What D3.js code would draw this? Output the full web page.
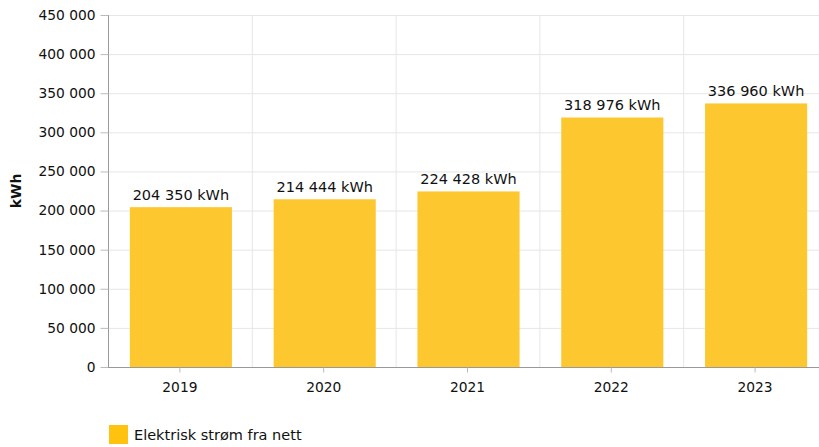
<!DOCTYPE html>
<html>
<head>
<meta charset="utf-8">
<script src="https://cdn.jsdelivr.net/npm/d3@7"></script>
<style>
  body { margin: 0; background: #fff; }
  text { font-family: "DejaVu Sans", Verdana, sans-serif; }
</style>
</head>
<body>
<svg id="chart" width="819" height="447"></svg>
<script>
var years = ["2019", "2020", "2021", "2022", "2023"];
var values = [204350, 214444, 224428, 318976, 336960];
var yTicks = [0, 50000, 100000, 150000, 200000, 250000, 300000, 350000, 400000, 450000];
var seriesName = "Elektrisk strøm fra nett";
var unit = "kWh";

var svg = d3.select("#chart");
var plotL = 108, plotR = 827, plotT = 15, plotB = 367;

var fmt = function(v) { return d3.format(",")(v).replace(/,/g, " "); };

var x = d3.scaleBand().domain(years).range([plotL, plotR]).paddingInner(0.29).paddingOuter(0.145);
var y = d3.scaleLinear().domain([0, 450000]).range([plotB, plotT]);

// horizontal grid
svg.append("g").selectAll("line").data(yTicks).enter().append("line")
  .attr("x1", plotL).attr("x2", 819)
  .attr("y1", function(d) { return y(d) + 0.5; }).attr("y2", function(d) { return y(d) + 0.5; })
  .style("stroke", "#e6e6e6");

// vertical grid between categories
var step = x.step();
svg.append("g").selectAll("line").data(years.slice(1)).enter().append("line")
  .attr("x1", function(d) { return x(d) - step * 0.145 + 0.5; })
  .attr("x2", function(d) { return x(d) - step * 0.145 + 0.5; })
  .attr("y1", plotT).attr("y2", plotB)
  .style("stroke", "#e6e6e6");

// bars
svg.append("g").selectAll("rect").data(values).enter().append("rect")
  .attr("x", function(d, i) { return x(years[i]) + 1; })
  .attr("width", x.bandwidth())
  .attr("y", function(d) { return y(d); })
  .attr("height", function(d) { return plotB - y(d); })
  .style("fill", "#fdc82f");

// value labels
svg.append("g").selectAll("text").data(values).enter().append("text")
  .attr("x", function(d, i) { return x(years[i]) + 1 + x.bandwidth() / 2; })
  .attr("y", function(d) { return y(d) - 7; })
  .attr("text-anchor", "middle")
  .style("font-size", "14.5px")
  .style("fill", "#111")
  .text(function(d) { return fmt(d) + " " + unit; });

// y axis
var yAxis = svg.append("g").attr("transform", "translate(" + (plotL + 0.5) + ",0)")
  .call(d3.axisLeft(y).tickValues(yTicks).tickFormat(fmt).tickSize(8).tickPadding(5));
yAxis.select(".domain").style("stroke", "#999").attr("d", "M0," + plotT + "V" + plotB);
yAxis.selectAll(".tick line").style("stroke", "#bbb");
yAxis.selectAll("text").style("font-size", "13.8px").style("fill", "#111")
  .style("font-family", "DejaVu Sans, Verdana, sans-serif");

// x axis
var xAxis = svg.append("g").attr("transform", "translate(0," + (plotB + 0.5) + ")")
  .call(d3.axisBottom(x).tickSize(5).tickPadding(10));
xAxis.select(".domain").style("stroke", "#999").attr("d", "M" + plotL + ",0H819");
xAxis.selectAll(".tick line").style("stroke", "#bbb");
xAxis.selectAll("text").style("font-size", "13.8px").style("fill", "#111")
  .style("font-family", "DejaVu Sans, Verdana, sans-serif");

// y label
svg.append("text")
  .attr("transform", "translate(21," + ((plotT + plotB) / 2) + ") rotate(-90)")
  .attr("text-anchor", "middle")
  .style("font-size", "14px")
  .style("font-weight", "bold")
  .style("fill", "#111")
  .text(unit);

// legend
var lg = svg.append("g").attr("transform", "translate(109,425)");
lg.append("rect").attr("width", 19).attr("height", 19).style("fill", "#ffc20e");
lg.append("text").attr("x", 25).attr("y", 15).style("font-size", "14.5px").style("fill", "#111").text(seriesName);
</script>
</body>
</html>
